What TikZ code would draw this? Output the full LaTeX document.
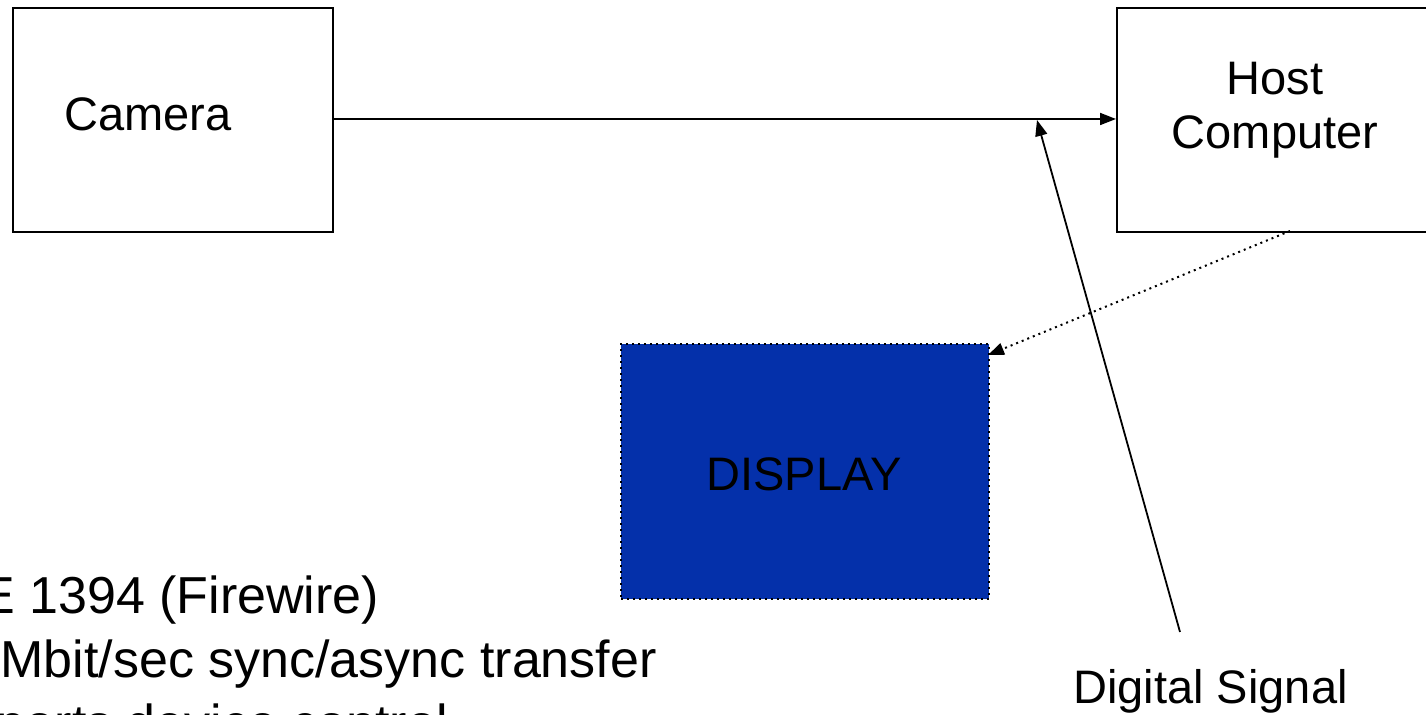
\documentclass[tikz,border=0pt]{standalone}
\usepackage{fontspec}
\setmainfont{Liberation Sans}
\usetikzlibrary{arrows.meta}
\definecolor{dispblue}{RGB}{4,48,170}
\begin{document}
\begin{tikzpicture}[x=0.5pt,y=-0.5pt,
  every node/.style={font=\fontsize{23.5}{28}\selectfont, inner sep=0pt},
  bullet/.style={anchor=base west, font=\fontsize{26}{31}\selectfont},
  box/.style={draw=black, line width=1pt},
  conn/.style={draw=black, line width=0.9pt, -{Triangle[length=8pt,width=6pt]}},
  dotconn/.style={draw=black, line width=1pt, dotted, -{Triangle[length=8pt,width=6pt]}}]
\useasboundingbox (0,0) rectangle (1426,715);
\clip (0,0) rectangle (1426,715);
\fill[white] (0,0) rectangle (1426,715);
% boxes
\node[box, minimum width=160pt, minimum height=112pt, anchor=north west] (cam) at (12,7) {};
\node at (148,114) {Camera};
\node[box, minimum width=159pt, minimum height=112pt, anchor=north west] (host) at (1116,7) {};
\node[align=center, font=\fontsize{23.5}{27}\selectfont] (hosttxt) at (1275,110) {Host\\Computer};
\node[draw=black, line width=1pt, dotted, fill=dispblue, minimum width=184pt, minimum height=127.5pt, anchor=north west] (disp) at (620,343) {};
\node at (804,474) {DISPLAY};
% connectors
\coordinate (hostbot) at (1290,231);
\coordinate (disptr) at (988,355);
\coordinate (sigtail) at (1180,632);
\coordinate (sighead) at (1037,120);
\draw[conn] (cam.east |- 0,119) -- (host.west |- 0,119);
\draw[conn] (sigtail) -- (sighead);
\draw[dotconn] (hostbot) -- (disptr);
% labels
\node[anchor=base west] (sig) at (1073,704) {Digital Signal};
\node[bullet] (l1) at (-104,614) {IEEE 1394 (Firewire)};
\node[bullet] (l2) at (-101,678) {400 Mbit/sec sync/async transfer};
\node[bullet] (l3) at (-96,742) {Supports device control};
\end{tikzpicture}
\end{document}
